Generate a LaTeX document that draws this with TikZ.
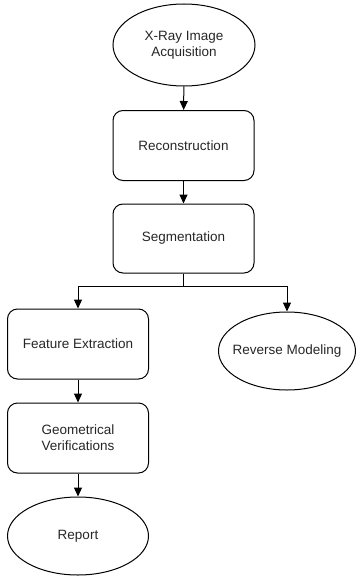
\documentclass[tikz,border=0pt]{standalone}
\usepackage{fontspec}
\setmainfont{Liberation Sans}
\usetikzlibrary{shapes.geometric,arrows.meta}
\begin{document}
\begin{tikzpicture}[x=1pt,y=-1pt,
  every node/.style={font=\fontsize{13.5}{16}\selectfont, text=black!85, align=center},
  procbox/.style={draw, line width=1pt, rounded corners=10pt, minimum width=141pt, minimum height=70pt, inner sep=0pt},
  termell/.style={draw, line width=1pt, ellipse, inner sep=0pt},
  conn/.style={draw, line width=1pt, -{Triangle[length=9pt,width=8pt]}}
]
\useasboundingbox (0,0) rectangle (356,578);
\node[termell, minimum width=142pt, minimum height=82pt] (xray) at (184,45) {X-Ray Image\\Acquisition};
\node[procbox] (rec) at (183.5,145.5) {Reconstruction};
\node[procbox, minimum height=69pt] (seg) at (183.5,238.5) {Segmentation};
\node[procbox] (fe) at (78,344) {Feature Extraction};
\node[termell, minimum width=137pt, minimum height=78pt] (rm) at (287,351) {\makebox[0pt]{Reverse Modeling}};
\node[procbox] (gv) at (78,438) {Geometrical\\Verifications};
\node[termell, minimum width=141pt, minimum height=78pt] (rep) at (78,536) {Report};
\coordinate (split) at (183.5,286);
\draw[conn] (xray) -- (rec);
\draw[conn] (rec) -- (seg);
\draw[line width=1pt] (seg.south) -- (split);
\draw[conn] (split) -| (fe.north);
\draw[conn] (split) -| (rm.north);
\draw[conn] (fe) -- (gv);
\draw[conn] (gv) -- (rep);
\end{tikzpicture}
\end{document}
